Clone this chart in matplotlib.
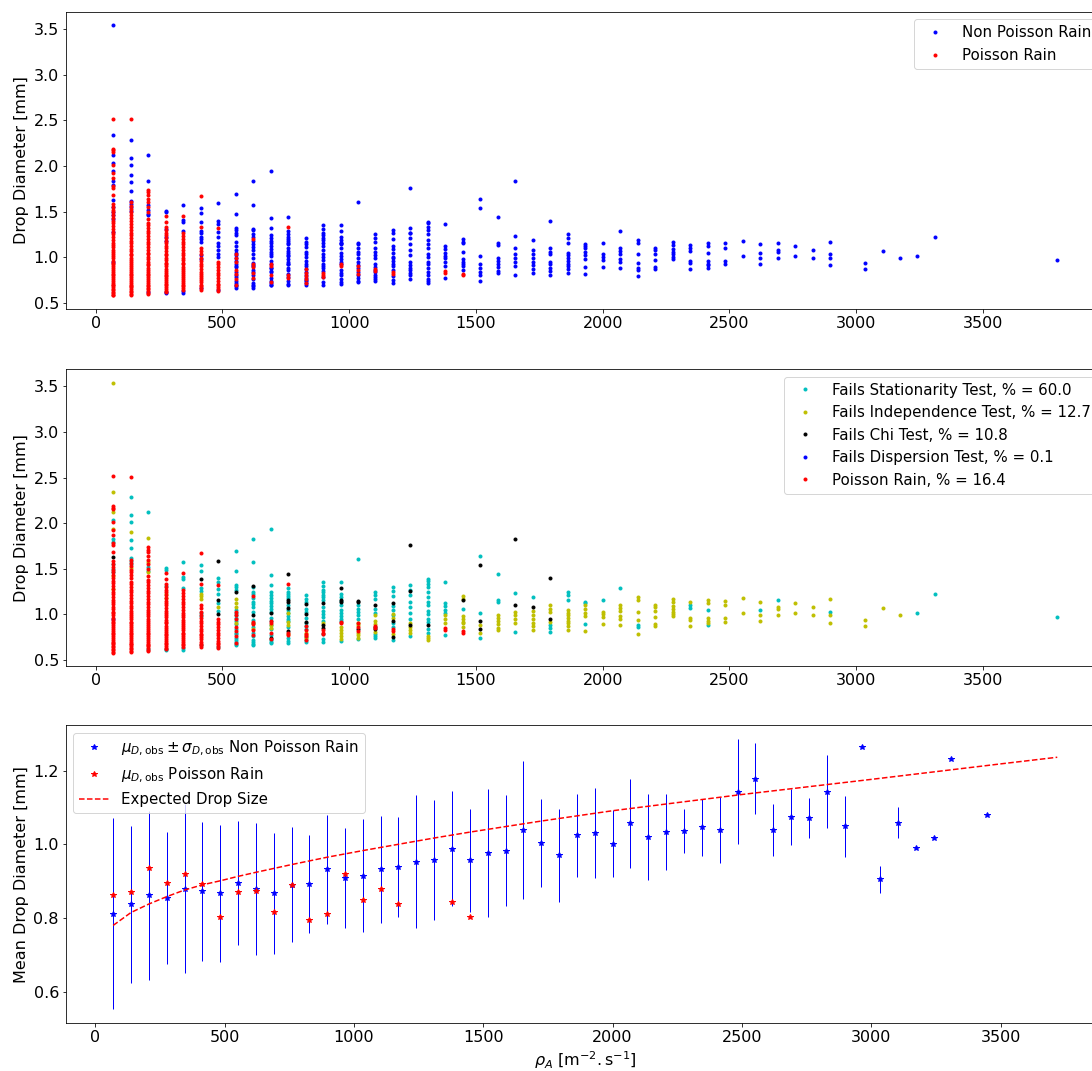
import matplotlib
matplotlib.use('Agg')
import matplotlib.pyplot as plt

# drop diameters [mm] per rain-rate column rho_A [m^-2 s^-1], split by test outcome
stationarity = {
    69: [2.03, 1.83, 1.79, 1.55, 1.50, 1.46],
    138: [2.29, 2.09, 2.01, 1.82, 1.73, 1.62, 1.58, 1.55],
    207: [2.12, 1.52, 1.47, 0.62],
    276: [1.51, 1.49, 1.31, 0.61, 0.62],
    345: [1.57, 1.41, 1.39, 1.29, 0.61, 0.63],
    414: [1.54, 1.48, 1.29, 1.26, 1.02, 0.98, 0.66],
    483: [1.40, 1.36, 1.28, 1.22, 1.12, 1.04, 0.64],
    552: [1.69, 1.47, 1.32, 1.30, 1.27, 1.05, 1.02, 0.99, 0.96, 0.93, 0.89, 0.84, 0.80, 0.78, 0.74, 0.72, 0.70, 0.68, 0.66],
    621: [1.83, 1.57, 1.30, 1.25, 1.22, 1.18, 1.14, 1.11, 1.08, 1.03, 0.94, 0.91, 0.86, 0.80, 0.76, 0.72, 0.70, 0.68, 0.66],
    690: [1.94, 1.43, 1.32, 1.24, 1.21, 1.18, 1.15, 1.12, 1.09, 1.06, 1.03, 0.96, 0.93, 0.88, 0.84, 0.77, 0.72, 0.70, 0.69],
    759: [1.29, 1.25, 1.22, 1.20, 1.18, 1.10, 1.05, 1.02, 0.98, 0.95, 0.93, 0.86, 0.74, 0.71, 0.69],
    828: [1.21, 1.17, 1.14, 1.06, 1.03, 0.96, 0.90, 0.87, 0.84, 0.75, 0.72, 0.70],
    897: [1.35, 1.31, 1.27, 1.24, 1.21, 1.19, 1.16, 1.08, 1.04, 1.00, 0.97, 0.93, 0.78, 0.73, 0.70],
    966: [1.35, 1.22, 1.19, 1.15, 1.10, 1.05, 1.01, 0.98, 0.95, 0.93, 0.71],
    1035: [1.61, 1.10, 1.06, 1.03, 0.99, 0.95, 0.73],
    1103: [1.25, 1.21, 1.17, 1.06, 1.02, 0.78, 0.76, 0.74],
    1172: [1.30, 1.26, 1.20, 1.09, 1.05, 0.99, 0.90, 0.86, 0.72],
    1241: [1.32, 1.27, 1.21, 1.14, 1.08, 1.02, 0.95, 0.76],
    1310: [1.39, 1.37, 1.33, 1.30, 1.25, 1.19, 1.14, 1.10, 1.04, 1.00, 0.95, 0.92, 0.84, 0.80],
    1379: [1.36, 1.12, 1.09, 1.05, 1.01, 0.77],
    1448: [1.06],
    1517: [1.64, 1.01, 0.74],
    1586: [1.44, 1.16, 1.13],
    1655: [1.23, 0.81],
    1724: [1.19],
    1793: [0.88, 0.85, 0.81],
    1862: [1.25, 1.21, 1.16],
    1931: [1.14, 1.12, 0.89],
    2000: [1.16],
    2069: [1.29],
    2138: [0.86, 0.88],
    2345: [1.10, 1.07],
    2414: [1.05, 0.88],
    2621: [1.05],
    2690: [1.16],
    2897: [1.03],
    3241: [1.01],
    3310: [1.22],
    3793: [0.97],
}

independence = {
    69: [3.54, 2.34, 2.12, 1.94, 1.42, 1.28],
    138: [1.90, 1.51],
    207: [1.84, 1.57, 1.46],
    276: [1.22, 1.18],
    414: [1.22, 1.20, 1.17],
    483: [1.08],
    552: [1.17, 1.12, 1.08, 0.90],
    621: [0.90, 0.84],
    690: [0.88, 0.85],
    759: [1.01, 0.92, 0.88, 0.78],
    828: [0.80, 0.77, 0.74],
    897: [0.90],
    966: [0.86, 0.83, 0.80, 0.76, 0.73],
    1035: [0.91, 0.88, 0.80, 0.77, 0.74],
    1103: [0.99, 0.93, 0.89, 0.81],
    1172: [1.00, 0.96, 0.79],
    1241: [0.91, 0.86, 0.83, 0.80],
    1310: [0.76, 0.74, 0.72],
    1379: [0.99, 0.95, 0.90],
    1448: [1.20, 1.17, 0.98, 0.95, 0.92, 0.90, 0.86],
    1517: [0.88, 0.80],
    1586: [0.99, 0.96, 0.93, 0.89, 0.85, 0.83],
    1655: [1.03, 0.99, 0.95, 0.90],
    1724: [1.04, 0.99, 0.95, 0.91, 0.87, 0.83],
    1793: [1.10, 1.06, 1.03, 0.92],
    1862: [1.05, 1.02, 0.99, 0.96, 0.93, 0.90, 0.87, 0.83],
    1931: [1.10, 1.06, 1.02, 0.98, 0.82],
    2000: [1.03, 1.00, 0.97, 0.89],
    2069: [1.10, 1.07, 1.04, 0.98, 0.95, 0.88],
    2138: [1.19, 1.16, 1.03, 0.94, 0.79],
    2207: [1.10, 1.08, 1.04, 0.97, 0.89, 0.87],
    2276: [1.17, 1.13, 1.09, 1.06, 1.03, 1.00, 0.98],
    2345: [1.13, 0.96, 0.94, 0.87],
    2414: [1.16, 1.12, 0.96, 0.93, 0.91],
    2483: [1.15, 1.10, 0.96, 0.92],
    2552: [1.18, 1.01],
    2621: [1.14, 0.99, 0.93],
    2690: [1.08, 1.06, 0.99],
    2759: [1.12, 1.01],
    2828: [1.08, 0.99],
    2897: [1.17, 0.99, 0.91],
    3035: [0.94, 0.87],
    3104: [1.07],
    3172: [0.99],
}

chi = {
    69: [1.63],
    414: [1.39],
    483: [1.59, 1.16, 1.00],
    552: [1.24],
    621: [1.31, 0.99],
    690: [1.01, 0.74],
    759: [1.44, 1.16, 1.14, 1.07, 0.82],
    828: [1.11, 1.00, 0.92],
    897: [1.12, 0.88, 0.85],
    966: [1.29, 1.16, 1.14],
    1035: [1.15, 1.14, 0.84],
    1103: [1.10, 0.86, 0.84],
    1172: [1.12, 0.93, 0.75],
    1241: [1.76, 1.26, 0.88],
    1310: [0.88],
    1448: [1.16],
    1517: [1.54, 0.93, 0.84],
    1655: [1.83, 1.10],
    1724: [1.08],
    1793: [1.40, 0.95],
}

dispersion = {69: [0.95]}

poisson = {
    69: [0.58, 0.59, 0.61, 0.62, 0.64, 0.65, 0.67, 0.69, 0.70, 0.72, 0.74, 0.76, 0.78, 0.80, 0.82, 0.84,
         0.86, 0.88, 0.90, 0.92, 0.94, 0.96, 0.99, 1.01, 1.03, 1.06, 1.08, 1.11, 1.13, 1.16, 1.19, 1.22,
         1.25, 1.28, 1.31, 1.34, 1.37, 1.40, 1.43, 1.46, 1.49, 1.52, 1.55, 1.58, 1.68, 1.76, 1.78, 1.87,
         1.92, 2.01, 2.15, 2.17, 2.19, 2.52],
    138: [0.59, 0.60, 0.62, 0.63, 0.65, 0.67, 0.68, 0.70, 0.72, 0.74, 0.76, 0.78, 0.80, 0.82, 0.84, 0.86,
          0.88, 0.90, 0.92, 0.95, 0.97, 0.99, 1.02, 1.04, 1.07, 1.09, 1.12, 1.15, 1.18, 1.21, 1.24, 1.27,
          1.30, 1.33, 1.36, 1.40, 1.43, 1.46, 1.49, 1.53, 1.56, 1.60, 2.51],
    207: [0.60, 0.61, 0.63, 0.65, 0.66, 0.68, 0.70, 0.72, 0.74, 0.76, 0.78, 0.80, 0.82, 0.84, 0.86, 0.88,
          0.91, 0.93, 0.95, 0.98, 1.00, 1.03, 1.05, 1.08, 1.11, 1.14, 1.17, 1.20, 1.23, 1.26, 1.29, 1.32,
          1.35, 1.38, 1.42, 1.50, 1.55, 1.60, 1.64, 1.68, 1.71, 1.74],
    276: [0.62, 0.63, 0.65, 0.67, 0.69, 0.71, 0.73, 0.75, 0.77, 0.79, 0.81, 0.83, 0.85, 0.87, 0.90, 0.92,
          0.94, 0.97, 0.99, 1.02, 1.04, 1.07, 1.10, 1.12, 1.15, 1.18, 1.21, 1.24, 1.27, 1.30, 1.33, 1.39, 1.45],
    345: [0.64, 0.66, 0.68, 0.70, 0.72, 0.74, 0.76, 0.78, 0.80, 0.83, 0.85, 0.87, 0.89, 0.92, 0.94, 0.97,
          0.99, 1.02, 1.05, 1.08, 1.11, 1.14, 1.17, 1.20, 1.23, 1.27, 1.45],
    414: [0.64, 0.66, 0.68, 0.70, 0.73, 0.75, 0.77, 0.79, 0.82, 0.84, 0.87, 0.90, 0.93, 0.96, 0.99, 1.03,
          1.07, 1.10, 1.33, 1.67],
    483: [0.63, 0.65, 0.67, 0.69, 0.71, 0.74, 0.77, 0.80, 0.83, 0.86, 0.89, 0.92, 0.95, 1.32],
    552: [0.69, 0.76, 0.82, 0.86, 0.95, 0.99, 1.03],
    621: [0.77, 0.83, 0.89, 0.92, 1.20],
    690: [0.73, 0.80, 0.90, 0.93],
    759: [0.77, 0.80, 1.33],
    828: [0.72, 0.76, 0.79, 0.83, 0.87],
    897: [0.78, 0.80, 0.83],
    966: [0.90, 0.92],
    1035: [0.82, 0.86, 0.90],
    1103: [0.85, 0.87],
    1172: [0.82, 0.84],
    1379: [0.83, 0.85],
    1448: [0.80, 0.82],
}

fail_pct = [60.0, 12.7, 10.8, 0.1, 16.4]

# mean drop diameter per column
rho_np = [69, 138, 207, 276, 345, 414, 483, 552, 621, 690, 759, 828, 897, 966, 1035, 1103, 1172, 1241,
          1310, 1379, 1448, 1517, 1586, 1655, 1724, 1793, 1862, 1931, 2000, 2069, 2138, 2207, 2276, 2345,
          2414, 2483, 2552, 2621, 2690, 2759, 2828, 2897, 2966, 3035, 3104, 3172, 3241, 3310, 3448]
mean_np = [0.812, 0.837, 0.862, 0.854, 0.880, 0.872, 0.867, 0.895, 0.880, 0.867, 0.890, 0.892, 0.932,
           0.908, 0.915, 0.932, 0.938, 0.953, 0.957, 0.988, 0.957, 0.976, 0.983, 1.039, 1.003, 0.970,
           1.024, 1.031, 1.001, 1.057, 1.019, 1.034, 1.037, 1.046, 1.039, 1.143, 1.178, 1.039, 1.074,
           1.071, 1.143, 1.049, 1.263, 0.905, 1.059, 0.989, 1.016, 1.231, 1.080]
std_np = [0.260, 0.213, 0.229, 0.179, 0.228, 0.188, 0.185, 0.168, 0.179, 0.164, 0.156, 0.133, 0.147,
          0.135, 0.153, 0.145, 0.136, 0.180, 0.162, 0.156, 0.140, 0.174, 0.151, 0.187, 0.120, 0.126,
          0.112, 0.122, 0.091, 0.121, 0.117, 0.103, 0.060, 0.078, 0.089, 0.143, 0.096, 0.071, 0.075,
          0.054, 0.098, 0.083, 0.0, 0.037, 0.043, 0.0, 0.0, 0.0, 0.0]

rho_p = [69, 138, 207, 276, 345, 414, 483, 552, 621, 690, 759, 828, 897, 966, 1035, 1103, 1172, 1379, 1448]
mean_p = [0.862, 0.870, 0.936, 0.895, 0.920, 0.892, 0.802, 0.870, 0.873, 0.817, 0.890, 0.794, 0.810,
          0.919, 0.850, 0.878, 0.838, 0.844, 0.802]

rho_exp = [69, 138, 207, 276, 345, 414, 483, 552, 621, 759, 897, 1035, 1172, 1310, 1448, 1586, 1724,
           2000, 2500, 3000, 3500, 3719]
d_exp = [0.780, 0.815, 0.838, 0.858, 0.876, 0.890, 0.901, 0.913, 0.924, 0.945, 0.965, 0.983, 1.000,
         1.017, 1.033, 1.048, 1.063, 1.091, 1.135, 1.176, 1.218, 1.236]

mean_ticks = [0.6, 0.8, 1.0, 1.2]


def flatten(groups):
    xs, ys = [], []
    for g in groups:
        for rho, vals in g.items():
            xs += [rho] * len(vals)
            ys += vals
    return xs, ys


plt.rcParams['font.size'] = 16

fig = plt.figure(figsize=(1092 / 72, 1071 / 72), dpi=72)
ax1 = fig.add_axes([0.0604, 0.7115, 0.951, 0.2773])
ax2 = fig.add_axes([0.0604, 0.378, 0.951, 0.2773])
ax3 = fig.add_axes([0.0604, 0.0448, 0.951, 0.278])

# top: Poisson vs non Poisson
x, y = flatten([stationarity, independence, chi, dispersion])
ax1.plot(x, y, 'b.', label='Non Poisson Rain')
x, y = flatten([poisson])
ax1.plot(x, y, 'r.', label='Poisson Rain')
ax1.set_ylabel('Drop Diameter [mm]')
ax1.legend(loc='upper right', fontsize=15)

# middle: which test fails
cats = [(stationarity, 'c', 'Fails Stationarity Test'),
        (independence, 'y', 'Fails Independence Test'),
        (chi, 'k', 'Fails Chi Test'),
        (dispersion, 'b', 'Fails Dispersion Test'),
        (poisson, 'r', 'Poisson Rain')]
for (d, c, name), pct in zip(cats, fail_pct):
    x, y = flatten([d])
    ax2.plot(x, y, '.', color=c, label='%s, %% = %.1f' % (name, pct))
ax2.set_ylabel('Drop Diameter [mm]')
ax2.legend(loc='upper right', fontsize=15)

# bottom: mean drop size
ax3.errorbar(rho_np, mean_np, yerr=std_np, fmt='none', ecolor='b', elinewidth=1)
ax3.plot(rho_np, mean_np, 'b*', label=r'$\mu_{D,\mathrm{obs}}\pm\sigma_{D,\mathrm{obs}}$ Non Poisson Rain')
ax3.plot(rho_p, mean_p, 'r*', label=r'$\mu_{D,\mathrm{obs}}$ Poisson Rain')
ax3.plot(rho_exp, d_exp, 'r--', label='Expected Drop Size')
ax3.set_yticks(mean_ticks)
ax3.set_ylabel('Mean Drop Diameter [mm]')
ax3.set_xlabel(r'$\rho_A$ [m$^{-2}.$s$^{-1}$]')
ax3.legend(loc='upper left', fontsize=15)

plt.savefig('out.png', dpi=72)
